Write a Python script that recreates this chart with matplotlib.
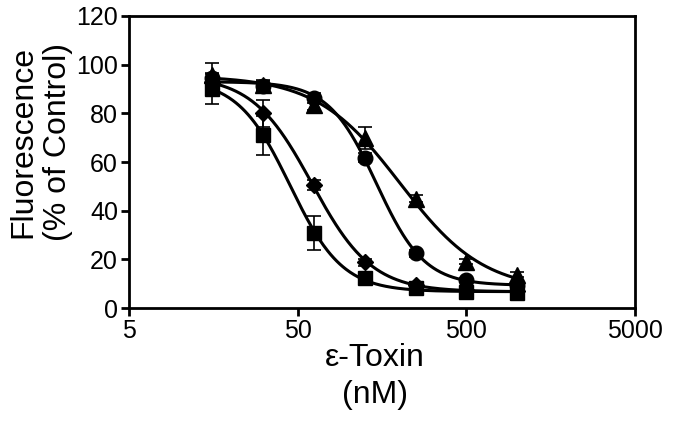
import numpy as np
import matplotlib
matplotlib.use('Agg')
import matplotlib.pyplot as plt

plt.rcParams['font.family'] = ['Liberation Sans', 'DejaVu Sans']

# toxin concentrations (nM)
conc = [15.625, 31.25, 62.5, 125, 250, 500, 1000]

# fluorescence, % of control
sq_y = [90, 71, 31, 12.2, 8.1, 6.7, 6.0]
sq_err = [6, 8, 7, 1.5, 1, 1, 1]
dia_y = [93, 80, 50.5, 18.8, 9.5, 7.5, 6.8]
dia_err = [2, 5.5, 2, 1.5, 1, 1, 1]
cir_y = [94.5, 91.2, 86.2, 61.8, 22.5, 11.5, 9.5]
cir_err = [2, 2, 2, 2, 1.5, 1, 1]
tri_y = [95.8, 91.6, 83.4, 69.7, 45, 19, 13.6]
tri_err = [5, 2, 2, 4.5, 1.5, 1, 1]

series = [
    (sq_y, sq_err, 's', 10.5),
    (dia_y, dia_err, 'D', 8.5),
    (cir_y, cir_err, 'o', 10.5),
    (tri_y, tri_err, '^', 11),
]


def hill_fit(x, y):
    """crude 4-parameter logistic fit: grid search on ic50/slope, linear for top/bottom"""
    x = np.asarray(x, float)
    y = np.asarray(y, float)
    best = None
    for lic in np.linspace(np.log10(10), np.log10(1000), 200):
        for h in np.linspace(0.8, 5, 85):
            g = 1.0 / (1.0 + (x / 10**lic)**h)
            A = np.column_stack([np.ones_like(g), g])
            coef, res, _, _ = np.linalg.lstsq(A, y, rcond=None)
            err = np.sum((A @ coef - y)**2)
            if best is None or err < best[0]:
                best = (err, lic, h, coef)
    _, lic, h, coef = best
    return lambda xx: coef[0] + coef[1] / (1.0 + (xx / 10**lic)**h)


fig = plt.figure(figsize=(6.73, 4.22), dpi=100)
ax = fig.add_axes([0.1917, 0.2701, 0.752, 0.692])

xs = np.logspace(np.log10(conc[0]), np.log10(conc[-1]), 300)
for y, e, m, ms in series:
    f = hill_fit(conc, y)
    ax.plot(xs, f(xs), color='black', lw=2.2)
    ax.errorbar(conc, y, yerr=e, fmt=m, color='black', ms=ms,
                ecolor='black', elinewidth=1.2, capsize=5, capthick=1.2)

ax.set_xscale('log')
ax.set_xlim(5, 5000)
ax.set_ylim(0, 120)
ax.set_xticks([5, 50, 500, 5000])
ax.set_xticklabels(['5', '50', '500', '5000'])
ax.xaxis.set_minor_locator(matplotlib.ticker.NullLocator())
ax.set_yticks(range(0, 121, 20))

for s in ax.spines.values():
    s.set_linewidth(2)
ax.tick_params(direction='out', length=6, width=2, labelsize=18, pad=2)

fig.text(0.060, 0.664, 'Fluorescence\n(% of Control)', fontsize=23,
         rotation=90, ha='center', va='center', linespacing=1.2)
fig.text(0.557, 0.108, 'ε-Toxin\n(nM)', fontsize=23,
         ha='center', va='center', linespacing=1.3)

fig.savefig('out.png', dpi=100)
